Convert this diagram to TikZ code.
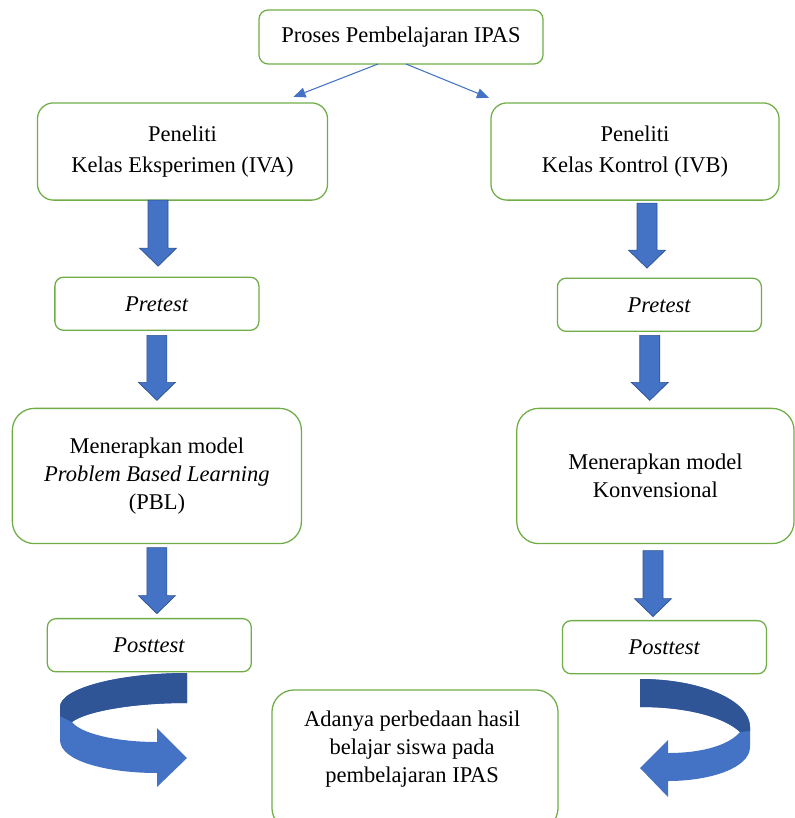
\documentclass[tikz,border=0pt]{standalone}
\usepackage{fontspec}
\setmainfont{Liberation Serif}
\usepackage{xcolor}
\usepackage{tikz}
\usetikzlibrary{arrows.meta, calc}
\usetikzlibrary{positioning}

\definecolor{boxgreen}{HTML}{70AD47}
\definecolor{arrowblue}{HTML}{4472C4}
\definecolor{arrowdark}{HTML}{2F5597}
\definecolor{arrowline}{HTML}{2F528F}

\tikzstyle{box} = [rectangle, draw=boxgreen, line width=0.9pt, fill=white, outer sep=0pt,
align=center, font=\fontsize{16}{20}\selectfont]
\tikzstyle{smallbox} = [box, rounded corners=0.22cm, minimum width=5.1cm, minimum height=1.33cm]
\tikzstyle{titlebox} = [box, rounded corners=0.23cm, minimum width=7.1cm, minimum height=1.35cm]
\tikzstyle{groupbox} = [box, rounded corners=0.4cm, minimum height=2.43cm]
\tikzstyle{modelbox} = [box, rounded corners=0.55cm, minimum height=3.38cm]
\tikzstyle{thinarrow} = [draw=arrowblue, line width=0.75pt, -{Triangle[length=0.3cm,width=0.25cm]}]
\tikzstyle{blockarrow} = [fill=arrowblue, draw=arrowline, line width=0.5pt,
to path={let \p1=(\tikztostart), \p2=(\tikztotarget) in
  (\x1-0.25cm,\y1) -- (\x1+0.25cm,\y1) -- (\x1+0.25cm,\y2+0.45cm)
  -- (\x1+0.4625cm,\y2+0.45cm) -- (\x1,\y2) -- (\x1-0.4625cm,\y2+0.45cm)
  -- (\x1-0.25cm,\y2+0.45cm) -- cycle}]

\begin{document}
\begin{tikzpicture}[x=0.025cm, y=-0.025cm]
    \path[use as bounding box, clip] (0,0) rectangle (795,818);

    \node (proses) [titlebox] at (401,37) {Proses Pembelajaran IPAS};
    \node (pel1) [groupbox, minimum width=7.25cm] at (182.5,151.5)
    {Peneliti\\[1.5pt] Kelas Eksperimen (IVA)};
    \node (pel2) [groupbox, minimum width=7.2cm] at (635,151.5)
    {Peneliti\\[1.5pt] Kelas Kontrol (IVB)};

    \node (pre1) [smallbox, below=1.925cm of pel1, xshift=-0.64cm] {\textit{Pretest}};
    \node (men1) [modelbox, minimum width=7.225cm, below=1.95cm of pre1]
    {Menerapkan model\\ \textit{Problem Based Learning}\\ (PBL)};
    \node (post1) [smallbox, below=1.875cm of men1, xshift=-0.19cm] {\textit{Posttest}};

    \node (pre2) [smallbox, below=1.95cm of pel2, xshift=0.61cm] {\textit{Pretest}};
    \node (men2) [modelbox, minimum width=6.93cm, below=1.925cm of pre2, xshift=-0.1cm]
    {Menerapkan model\\ Konvensional};
    \node (post2) [smallbox, below=1.925cm of men2, xshift=0.225cm] {\textit{Posttest}};

    \node (hasil) [box, rounded corners=0.55cm, minimum width=7.15cm, minimum height=3.5cm]
    at (415,760)
    {
      \begin{tabular}{c}
        Adanya perbedaan hasil \\
        belajar siswa pada \\
        pembelajaran IPAS \\[0.55cm]
      \end{tabular}
    };

    % thin arrows from the title
    \draw[thinarrow] ([xshift=-0.575cm]proses.south) -- ([xshift=2.775cm,yshift=0.15cm]pel1.north);
    \draw[thinarrow] ([xshift=0.125cm]proses.south) -- ([xshift=-3.65cm,yshift=0.125cm]pel2.north);

    % block arrows
    \draw[blockarrow] ([xshift=-0.61cm]pel1.south) to ([yshift=0.275cm]pre1.north);
    \draw[blockarrow] ([yshift=-0.125cm]pre1.south) to ([yshift=0.2cm]men1.north);
    \draw[blockarrow] ([yshift=-0.1cm]men1.south) to ([yshift=0.125cm]post1.north);
    \draw[blockarrow] ([xshift=0.3cm,yshift=-0.075cm]pel2.south) to ([yshift=0.25cm]pre2.north);
    \draw[blockarrow] ([xshift=-0.24cm,yshift=-0.1cm]pre2.south) to ([yshift=0.2cm]men2.north);
    \draw[blockarrow] ([xshift=-0.06cm,yshift=-0.175cm]men2.south) to ([yshift=0.1cm]post2.north);

    % curved arrows
    \fill[arrowblue] (187,673) .. controls (120,673) and (60,688) .. (60,707) -- (60,740)
      .. controls (60,762) and (110,773) .. (157,773) -- (157,787) -- (187,758) -- (157,728)
      -- (157,742) .. controls (115,742) and (80,733) .. (72,722)
      .. controls (85,712) and (130,703) .. (187,703) -- cycle;
    \fill[arrowdark] (187,673) .. controls (120,673) and (60,688) .. (60,707) -- (60,716)
      -- (72,722) .. controls (85,712) and (130,703) .. (187,703) -- cycle;

    \fill[arrowblue] (640,679) .. controls (700,679) and (750,700) .. (750,727) -- (750,747)
      .. controls (750,768) and (710,781) .. (668,781) -- (668,797) -- (640,768) -- (668,740)
      -- (668,753) .. controls (705,753) and (730,744) .. (740,732)
      .. controls (725,718) and (690,707) .. (640,707) -- cycle;
    \fill[arrowdark] (640,679) .. controls (700,679) and (750,700) .. (750,727) -- (750,731)
      -- (740,732) .. controls (725,718) and (690,707) .. (640,707) -- cycle;
\end{tikzpicture}
\end{document}
